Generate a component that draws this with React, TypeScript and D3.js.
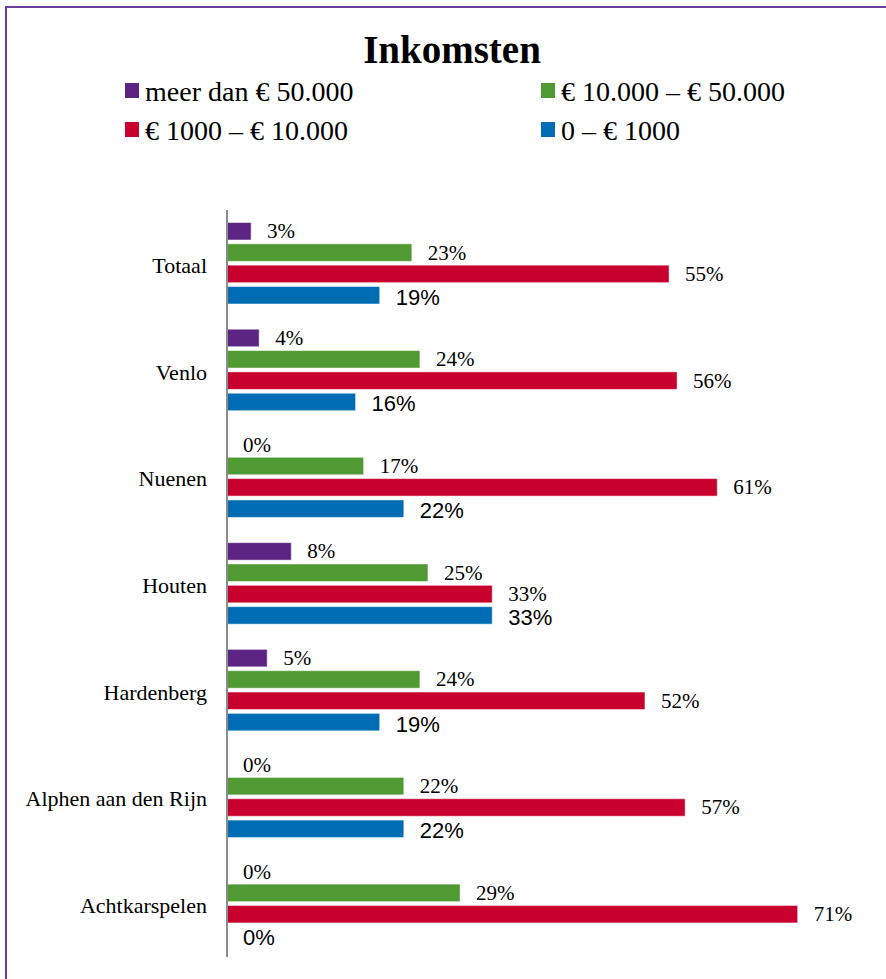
import React from 'react';
import * as d3 from 'd3';

// values (fractions)
const categories = ['Totaal', 'Venlo', 'Nuenen', 'Houten', 'Hardenberg', 'Alphen aan den Rijn', 'Achtkarspelen'];
const seriesNames = ['meer dan € 50.000', '€ 10.000 – € 50.000', '€ 1000 – € 10.000', '0 – € 1000'];
const seriesColors = ['#5C2483', '#4F9A32', '#C8002D', '#006CB4'];
const meerDan50000 = [0.03, 0.04, 0, 0.08, 0.05, 0, 0];
const van10000tot50000 = [0.23, 0.24, 0.17, 0.25, 0.24, 0.22, 0.29];
const van1000tot10000 = [0.55, 0.56, 0.61, 0.33, 0.52, 0.57, 0.71];
const tot1000 = [0.19, 0.16, 0.22, 0.33, 0.19, 0.22, 0];
const seriesValues = [meerDan50000, van10000tot50000, van1000tot10000, tot1000];

const W = 886;
const H = 979;
const serif = '"Liberation Serif", "Times New Roman", serif';
const sans = '"Liberation Sans", Arial, sans-serif';

export default function App() {
  const x = d3.scaleLinear().domain([0, 0.8]).range([227, 870]);
  const y = d3.scaleBand().domain(categories).range([210, 957]).padding(0);
  const inner = d3
    .scaleBand<number>()
    .domain([0, 1, 2, 3])
    .range([12.5, 94])
    .paddingInner(0.18)
    .paddingOuter(0);
  const fmt = d3.format('.0%');

  // legend layout: 2 columns x 2 rows
  const legendPos = [
    { x: 125, y: 101 },
    { x: 541, y: 101 },
    { x: 125, y: 140 },
    { x: 541, y: 140 },
  ];

  return (
    <svg
      width={W}
      height={H}
      style={{ position: 'absolute', left: 0, top: 0, background: '#fff' }}
    >
      <rect x={6} y={7} width={W + 10} height={H + 10} fill="#fff" stroke="#6B3FA0" strokeWidth={2} />

      <text x={452} y={63} textAnchor="middle" fontFamily={serif} fontWeight="bold" fontSize={39} fill="#000">
        Inkomsten
      </text>

      {seriesNames.map((name, i) => (
        <g key={name}>
          <rect x={legendPos[i].x} y={legendPos[i].y - 18} width={14} height={15} fill={seriesColors[i]} />
          <text x={legendPos[i].x + 20} y={legendPos[i].y} fontFamily={serif} fontSize={28} fill="#000">
            {name}
          </text>
        </g>
      ))}

      {categories.map((cat, ci) => {
        const y0 = y(cat)!;
        return (
          <g key={cat}>
            <text
              x={207}
              y={y0 + y.bandwidth() / 2 + 2}
              textAnchor="end"
              dominantBaseline="central"
              fontFamily={serif}
              fontSize={22}
              fill="#000"
            >
              {cat}
            </text>
            {seriesValues.map((vals, si) => {
              const v = vals[ci];
              const by = y0 + inner(si)!;
              const bh = inner.bandwidth();
              return (
                <g key={si}>
                  {v > 0 && (
                    <rect
                      x={x(0)}
                      y={by}
                      width={x(v) - x(0)}
                      height={bh}
                      fill={seriesColors[si]}
                      stroke="#fff"
                      strokeOpacity={0.5}
                      strokeWidth={1}
                    />
                  )}
                  <text
                    x={x(v) + 16}
                    y={by + bh / 2 + (si === 3 ? 2 : 0)}
                    dominantBaseline="central"
                    fontFamily={si === 3 ? sans : serif}
                    fontSize={si === 3 ? 22 : 21}
                    fill="#000"
                  >
                    {fmt(v)}
                  </text>
                </g>
              );
            })}
          </g>
        );
      })}

      <line x1={x(0)} x2={x(0)} y1={210} y2={957} stroke="#8C8C8C" strokeWidth={2} />
    </svg>
  );
}
